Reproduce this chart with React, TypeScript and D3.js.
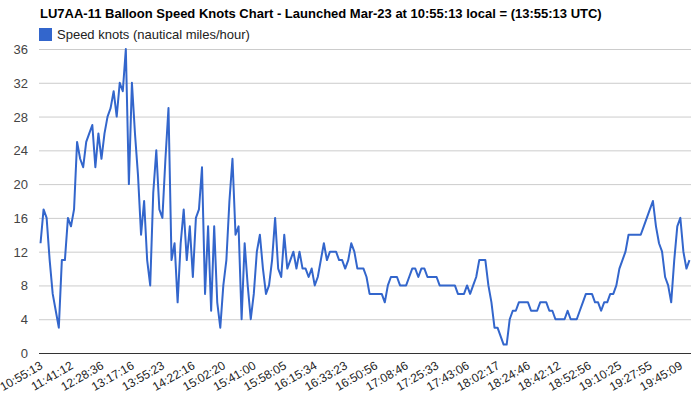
import React from 'react'
import * as d3 from 'd3'

// speed readings (knots), one per report, left to right
const speeds = [
  13, 17, 16, 11, 7, 5, 3, 11, 11, 16, 15, 17, 25, 23, 22, 25, 26, 27, 22, 26,
  23, 26, 28, 29, 31, 28, 32, 31, 36, 20, 32, 26, 21, 14, 18, 11, 8, 19, 24, 17,
  16, 23, 29, 11, 13, 6, 13, 17, 11, 15, 9, 16, 17, 22, 7, 15, 5, 15, 6, 3,
  8, 11, 18, 23, 14, 15, 4, 13, 8, 4, 7, 12, 14, 10, 7, 8, 11, 16, 10, 9,
  14, 10, 11, 12, 10, 12, 10, 10, 9, 10, 8, 9, 11, 13, 11, 12, 12, 12, 11, 11,
  10, 11, 13, 12, 10, 10, 10, 9, 7, 7, 7, 7, 7, 6, 8, 9, 9, 9, 8, 8,
  8, 9, 10, 10, 9, 10, 10, 9, 9, 9, 9, 8, 8, 8, 8, 8, 8, 7, 7, 7,
  8, 7, 8, 9, 11, 11, 11, 8, 6, 3, 3, 2, 1, 1, 4, 5, 5, 6, 6, 6,
  6, 5, 5, 5, 6, 6, 6, 5, 5, 4, 4, 4, 4, 5, 4, 4, 4, 5, 6, 7,
  7, 7, 6, 6, 5, 6, 6, 7, 7, 8, 10, 11, 12, 14, 14, 14, 14, 14, 15, 16,
  17, 18, 15, 13, 12, 9, 8, 6, 11, 15, 16, 12, 10, 11,
]

const tickLabels = [
  '10:55:13', '11:41:12', '12:28:36', '13:17:16', '13:55:23', '14:22:16',
  '15:02:20', '15:41:00', '15:58:05', '16:15:34', '16:33:23', '16:50:56',
  '17:08:46', '17:25:33', '17:43:06', '18:02:17', '18:24:46', '18:42:12',
  '18:52:56', '19:10:25', '19:27:55', '19:45:09',
]
const TICK_EVERY = 10

const yTicks = [0, 4, 8, 12, 16, 20, 24, 28, 32, 36]

const TITLE = 'LU7AA-11 Balloon Speed Knots Chart - Launched Mar-23 at 10:55:13 local = (13:55:13 UTC)'
const SERIES = 'Speed knots (nautical miles/hour)'

const W = 695
const H = 398
const FONT = '"Liberation Sans", Arial, sans-serif'

export default function App() {
  const left = 39, right = 691, top = 49, bottom = 353

  const x = d3.scaleLinear().domain([0, speeds.length]).range([left, right])
  const y = d3.scaleLinear().domain([0, 36]).range([bottom, top])

  const line = d3.line<number>()
    .x((_, i) => x(i + 0.5))
    .y(d => y(d))

  return (
    <svg width={W} height={H} style={{ position: 'absolute', left: 0, top: 0, background: '#fff' }}
      fontFamily={FONT}>
      <rect width={W} height={H} fill="#fff" />

      {/* title + legend */}
      <text x={40} y={18} fontSize={13} fontWeight="bold" fill="#000">{TITLE}</text>
      <rect x={39} y={28} width={13} height={13} fill="#3366cc" />
      <text x={57} y={39} fontSize={13} fill="#222">{SERIES}</text>

      {/* grid */}
      {yTicks.map(t => (
        <g key={t}>
          {t > 0 && <line x1={left} x2={right} y1={y(t) + 0.5} y2={y(t) + 0.5} stroke="#cccccc" />}
          <text x={28} y={y(t) + 5} textAnchor="end" fontSize={13} fill="#444">{t}</text>
        </g>
      ))}

      <path d={line(speeds) ?? ''} fill="none" stroke="#3366cc" strokeWidth={2} strokeLinejoin="round" />

      <line x1={left} x2={right} y1={y(0) + 0.5} y2={y(0) + 0.5} stroke="#333" />

      {/* slanted x labels */}
      {tickLabels.map((lab, k) => {
        const tx = x(k * TICK_EVERY + 0.5) + 3
        const ty = 368
        return (
          <text key={lab} x={tx} y={ty} transform={`rotate(-30 ${tx} ${ty})`}
            textAnchor="end" fontSize={12} fill="#222">{lab}</text>
        )
      })}
    </svg>
  )
}
